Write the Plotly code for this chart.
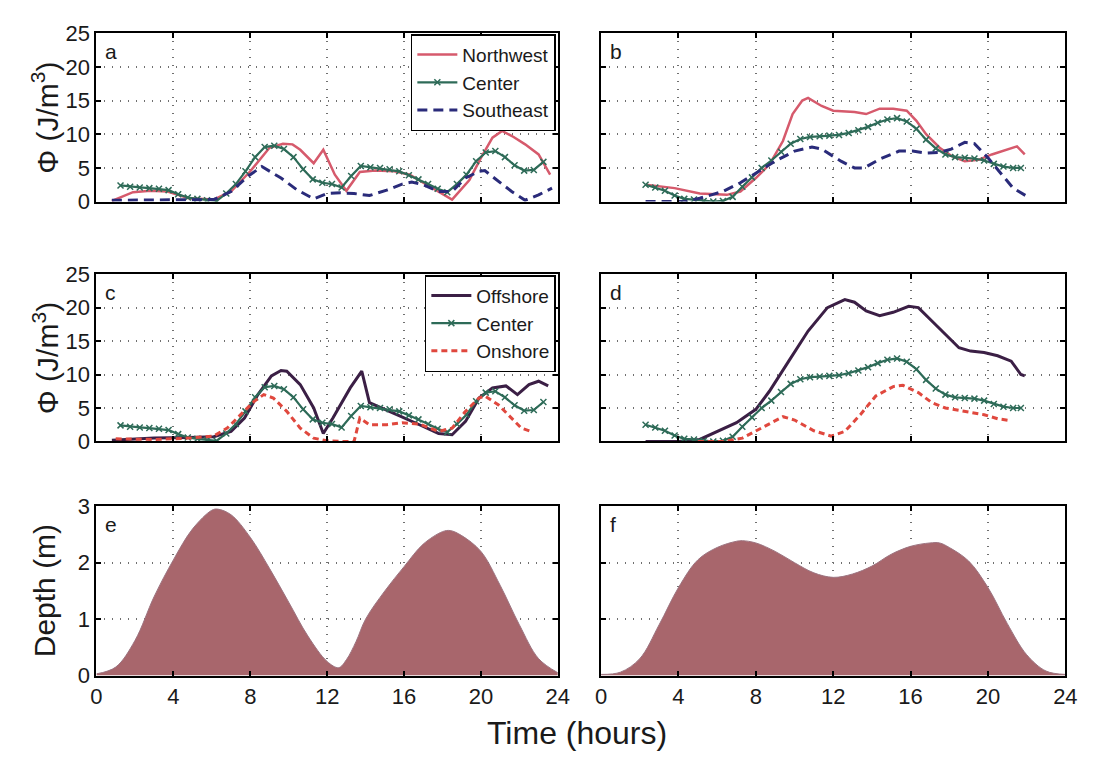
import plotly.graph_objects as go
from plotly.subplots import make_subplots

# ---- Panel a: energy at three sites (calm day) ----
nw_a_t = [0.8, 1.9, 2.8, 3.7, 4.8, 6.1, 7.0, 8.0, 9.0, 9.7, 10.2, 10.6, 11.3, 11.8, 12.4, 13.0,
          13.7, 14.5, 15.5, 16.3, 17.0, 17.8, 18.5, 19.4, 20.0, 20.6, 21.1, 21.7, 22.3, 23.0, 23.6]
nw_a_v = [0.1, 1.4, 1.6, 1.5, 0.5, 0.3, 1.5, 4.5, 8.0, 8.6, 8.5, 7.7, 5.7, 7.7, 4.0, 1.6,
          4.4, 4.6, 4.5, 4.0, 2.8, 1.4, 0.3, 3.2, 6.5, 9.5, 10.5, 9.6, 8.5, 7.0, 4.0]

center_ac_t = [1.25, 1.75, 2.25, 2.75, 3.25, 3.75, 4.25, 4.75, 5.25, 5.75, 6.25, 6.75, 7.25, 7.75,
               8.25, 8.75, 9.25, 9.75, 10.25, 10.75, 11.25, 11.75, 12.25, 12.75, 13.25, 13.75,
               14.25, 14.75, 15.25, 15.75, 16.25, 16.75, 17.25, 17.75, 18.25, 18.75, 19.25,
               19.75, 20.25, 20.75, 21.25, 21.75, 22.25, 22.75, 23.25]
center_ac_v = [2.4, 2.2, 2.1, 2.0, 1.9, 1.7, 1.1, 0.6, 0.4, 0.2, 0.1, 1.2, 2.6, 4.5,
               6.6, 8.1, 8.3, 7.8, 6.6, 4.8, 3.3, 2.8, 2.6, 2.1, 3.8, 5.3,
               5.1, 5.0, 4.8, 4.5, 3.9, 3.3, 2.6, 1.9, 1.4, 2.6, 4.0,
               6.0, 7.3, 7.5, 6.6, 5.4, 4.6, 4.7, 5.9]

se_a_t = [0.8, 3.0, 6.1, 7.0, 7.9, 8.6, 9.6, 10.4, 11.3, 12.0, 12.7, 13.4, 14.2, 15.1, 15.9,
          16.4, 17.0, 17.8, 18.5, 19.2, 19.9, 20.2, 20.9, 21.6, 22.3, 23.0, 23.7]
se_a_v = [0.2, 0.2, 0.3, 1.5, 3.8, 5.2, 3.5, 1.8, 0.4, 1.2, 1.3, 1.2, 0.9, 1.7, 2.6,
          2.9, 2.5, 1.5, 1.5, 3.5, 4.5, 4.6, 3.0, 1.5, 0.2, 1.0, 2.0]

# ---- Panel b: energy at three sites (storm day) ----
nw_b_t = [2.3, 3.8, 5.1, 6.5, 7.2, 8.0, 8.7, 9.4, 9.9, 10.4, 10.7, 11.4, 12.0, 13.1, 13.7,
          14.4, 15.1, 15.8, 16.3, 16.8, 17.5, 18.1, 18.8, 19.5, 20.2, 20.8, 21.5, 21.9]
nw_b_v = [2.5, 2.0, 1.2, 1.0, 1.5, 3.5, 5.5, 9.0, 13.0, 15.0, 15.4, 14.2, 13.5, 13.3, 13.0,
          13.8, 13.8, 13.5, 12.0, 10.0, 8.0, 6.8, 6.0, 6.2, 7.0, 7.5, 8.2, 7.0]

center_bd_t = [2.3, 2.8, 3.3, 3.8, 4.3, 4.8, 5.3, 5.8, 6.3, 6.8, 7.3, 7.8, 8.3, 8.8, 9.3, 9.8,
               10.3, 10.8, 11.3, 11.8, 12.3, 12.8, 13.3, 13.8, 14.3, 14.8, 15.3, 15.8, 16.3,
               16.8, 17.3, 17.8, 18.3, 18.8, 19.3, 19.8, 20.3, 20.8, 21.3, 21.7]
center_bd_v = [2.5, 2.1, 1.6, 0.9, 0.4, 0.3, 0.1, 0.0, 0.1, 0.7, 2.2, 3.6, 5.0, 6.1, 7.4, 8.6,
               9.3, 9.6, 9.7, 9.8, 9.9, 10.2, 10.6, 11.1, 11.7, 12.2, 12.4, 11.9, 10.8,
               9.2, 7.9, 7.0, 6.6, 6.5, 6.4, 6.1, 5.6, 5.2, 5.0, 5.0]

se_b_t = [2.3, 4.3, 5.1, 6.3, 7.2, 8.0, 9.0, 10.0, 10.9, 11.4, 12.4, 13.1, 13.6, 14.4, 15.4,
          16.1, 16.8, 17.5, 18.1, 18.8, 19.3, 20.0, 20.7, 21.3, 22.0]
se_b_v = [0.0, 0.0, 0.5, 1.5, 2.8, 4.2, 6.0, 7.5, 8.1, 7.8, 6.0, 5.0, 5.0, 6.3, 7.5,
          7.5, 7.2, 7.3, 7.8, 8.8, 8.6, 6.5, 4.0, 2.0, 0.8]

# ---- Panel c: cross-shore sites (calm day) ----
off_c_t = [0.8, 3.0, 4.8, 6.1, 7.0, 7.7, 8.4, 9.1, 9.6, 9.9, 10.6, 11.3, 11.8, 12.3, 13.2,
           13.8, 14.2, 14.7, 15.8, 16.8, 17.8, 18.5, 19.2, 19.9, 20.6, 21.3, 21.9, 22.5,
           23.0, 23.5]
off_c_v = [0.2, 0.5, 0.6, 0.7, 1.5, 3.5, 7.0, 9.8, 10.6, 10.5, 8.5, 5.0, 1.2, 3.5, 8.0,
           10.5, 5.8, 5.2, 3.8, 2.5, 1.2, 1.0, 3.0, 6.5, 8.0, 8.3, 7.0, 8.5, 9.0, 8.3]

on_c_t = [1.0, 3.0, 4.8, 6.1, 6.8, 7.5, 8.2, 8.7, 9.2, 9.9, 10.6, 11.3, 12.0, 12.7, 13.4,
          13.7, 14.2, 15.1, 15.9, 16.8, 17.8, 18.5, 19.2, 19.9, 20.2, 20.9, 21.6, 22.1, 22.6]
on_c_v = [0.4, 0.3, 0.5, 0.8, 2.0, 4.0, 6.0, 7.0, 6.5, 4.5, 2.0, 0.5, 0.1, 0.0, 0.0,
          3.5, 2.5, 2.5, 2.8, 2.6, 1.5, 2.0, 4.5, 6.5, 6.8, 5.5, 3.5, 2.0, 1.5]

# ---- Panel d: cross-shore sites (storm day) ----
off_d_t = [2.3, 4.0, 5.1, 6.0, 7.0, 8.0, 8.7, 9.7, 10.7, 11.7, 12.6, 13.1, 13.7, 14.4, 15.1,
           15.9, 16.4, 17.1, 17.8, 18.5, 19.1, 19.8, 20.5, 21.2, 21.7, 21.9]
off_d_v = [0.0, 0.0, 0.3, 1.5, 2.8, 4.8, 7.5, 12.0, 16.5, 20.0, 21.2, 20.8, 19.5, 18.8, 19.3,
           20.2, 20.0, 18.0, 16.0, 14.0, 13.5, 13.3, 12.8, 12.0, 10.0, 9.8]

on_d_t = [5.0, 6.3, 7.3, 8.3, 9.4, 10.0, 11.0, 11.9, 12.6, 13.4, 14.2, 15.1, 15.6, 16.4, 17.1,
          17.8, 18.8, 19.8, 20.5, 21.2]
on_d_v = [0.0, 0.0, 0.5, 2.0, 3.7, 3.2, 1.6, 0.8, 1.5, 4.0, 6.8, 8.2, 8.4, 7.3, 5.8,
          5.0, 4.5, 4.0, 3.4, 3.1]

# ---- Panels e, f: water depth ----
depth_e_t = [0, 1, 2, 3, 4, 5, 6, 6.3, 7, 8, 9, 10, 11, 12, 12.6, 13, 13.5, 14, 15, 16, 17,
             18, 18.4, 19, 20, 21, 22, 23, 24]
depth_e_v = [0.03, 0.15, 0.62, 1.4, 2.05, 2.6, 2.93, 2.95, 2.85, 2.45, 1.9, 1.3, 0.7, 0.25,
             0.14, 0.28, 0.6, 1.0, 1.5, 1.93, 2.33, 2.55, 2.57, 2.48, 2.2, 1.6, 0.9, 0.3, 0.05]

depth_f_t = [0, 1, 2, 3, 4, 5, 6, 7, 7.3, 8, 9, 10, 11, 12, 13, 14, 15, 16, 17, 17.5, 18, 19,
             20, 21, 22, 23, 24]
depth_f_v = [0.02, 0.06, 0.3, 0.9, 1.56, 2.05, 2.27, 2.38, 2.39, 2.35, 2.2, 2.0, 1.82, 1.74,
             1.8, 1.94, 2.15, 2.29, 2.35, 2.35, 2.27, 2.03, 1.56, 0.92, 0.37, 0.08, 0.02]

x_ticks = [0, 4, 8, 12, 16, 20, 24]
phi_ticks = [0, 5, 10, 15, 20, 25]
depth_ticks = [0, 1, 2, 3]
panel_letters = ["a", "b", "c", "d", "e", "f"]

C_NW = "#d65a6c"
C_CENTER = "#2e6b58"
C_SE = "#2a2b7a"
C_OFF = "#3b1f45"
C_ON = "#e0483e"
C_FILL = "#a8666c"
FONT = "Liberation Sans, Arial, sans-serif"
TXT = "#1a1a1a"

fig = make_subplots(rows=3, cols=2)

def center_trace(t, v, show, legend):
    return go.Scatter(x=t, y=v, mode="lines+markers", name="Center",
                      line=dict(color=C_CENTER, width=2.2),
                      marker=dict(symbol="x-thin", size=6, color=C_CENTER,
                                  line=dict(color=C_CENTER, width=1.5)),
                      showlegend=show, legend=legend)

# panel a
fig.add_trace(go.Scatter(x=nw_a_t, y=nw_a_v, mode="lines", name="Northwest",
                         line=dict(color=C_NW, width=2.5), legend="legend"), 1, 1)
fig.add_trace(center_trace(center_ac_t, center_ac_v, True, "legend"), 1, 1)
fig.add_trace(go.Scatter(x=se_a_t, y=se_a_v, mode="lines", name="Southeast",
                         line=dict(color=C_SE, width=3, dash="10px,6px"), legend="legend"), 1, 1)
# panel b
fig.add_trace(go.Scatter(x=nw_b_t, y=nw_b_v, mode="lines", showlegend=False,
                         line=dict(color=C_NW, width=2.5)), 1, 2)
fig.add_trace(center_trace(center_bd_t, center_bd_v, False, "legend"), 1, 2)
fig.add_trace(go.Scatter(x=se_b_t, y=se_b_v, mode="lines", showlegend=False,
                         line=dict(color=C_SE, width=3, dash="10px,6px")), 1, 2)
# panel c
fig.add_trace(go.Scatter(x=off_c_t, y=off_c_v, mode="lines", name="Offshore",
                         line=dict(color=C_OFF, width=3), legend="legend2"), 2, 1)
fig.add_trace(center_trace(center_ac_t, center_ac_v, True, "legend2"), 2, 1)
fig.add_trace(go.Scatter(x=on_c_t, y=on_c_v, mode="lines", name="Onshore",
                         line=dict(color=C_ON, width=3, dash="6px,4px"), legend="legend2"), 2, 1)
# panel d
fig.add_trace(go.Scatter(x=off_d_t, y=off_d_v, mode="lines", showlegend=False,
                         line=dict(color=C_OFF, width=3)), 2, 2)
fig.add_trace(center_trace(center_bd_t, center_bd_v, False, "legend2"), 2, 2)
fig.add_trace(go.Scatter(x=on_d_t, y=on_d_v, mode="lines", showlegend=False,
                         line=dict(color=C_ON, width=3, dash="6px,4px")), 2, 2)
# panels e, f
for col, (t, v) in enumerate([(depth_e_t, depth_e_v), (depth_f_t, depth_f_v)], start=1):
    fig.add_trace(go.Scatter(x=t, y=v, mode="lines", fill="tozeroy", fillcolor=C_FILL,
                             line=dict(color="#9c7480", width=1, shape="spline"),
                             showlegend=False), 3, col)

W, H = 1099, 764
x_dom = [(92, 561), (605, 1077)]
y_dom = [(22, 196), (271, 444), (511, 686)]

axis_common = dict(showline=True, linecolor="black", linewidth=2, mirror="ticks",
                   ticks="inside", ticklen=5, tickcolor="black", tickwidth=1.5,
                   showgrid=True, gridcolor="#707070", griddash="1px,7px", gridwidth=1.5,
                   zeroline=False,
                   tickfont=dict(family=FONT, size=22, color=TXT))

for r in range(3):
    for c in range(2):
        idx = r * 2 + c + 1
        sfx = "" if idx == 1 else str(idx)
        x0, x1 = x_dom[c]
        y0, y1 = y_dom[r]
        xa = dict(axis_common, domain=[x0 / W, x1 / W], range=[0, 24],
                  tickvals=x_ticks, showticklabels=(r == 2))
        if r < 2:
            ya = dict(axis_common, domain=[1 - y1 / H, 1 - y0 / H], range=[0, 25],
                      tickvals=phi_ticks, showticklabels=(c == 0))
        else:
            ya = dict(axis_common, domain=[1 - y1 / H, 1 - y0 / H], range=[0, 3],
                      tickvals=depth_ticks, showticklabels=(c == 0))
        fig.layout["xaxis" + sfx].update(xa)
        fig.layout["yaxis" + sfx].update(ya)

annotations = []
for i, letter in enumerate(panel_letters):
    r, c = divmod(i, 2)
    annotations.append(dict(text=letter, xref="paper", yref="paper",
                            x=(x_dom[c][0] + 7) / W, y=1 - (y_dom[r][0] + 5) / H,
                            xanchor="left", yanchor="top", showarrow=False,
                            font=dict(family=FONT, size=21, color=TXT)))
for r, label in [(0, "Φ (J/m<sup>3</sup>)"), (1, "Φ (J/m<sup>3</sup>)"), (2, "Depth (m)")]:
    annotations.append(dict(text=label, xref="paper", yref="paper", textangle=-90,
                            x=40 / W, y=1 - (y_dom[r][0] + y_dom[r][1]) / 2 / H,
                            xanchor="center", yanchor="middle", showarrow=False,
                            font=dict(family=FONT, size=30, color=TXT)))
annotations.append(dict(text="Time (hours)", xref="paper", yref="paper",
                        x=580 / W, y=1 - 745 / H, xanchor="center", yanchor="middle",
                        showarrow=False, font=dict(family=FONT, size=32, color=TXT)))

legend_style = dict(bgcolor="white", bordercolor="black", borderwidth=1.5,
                    font=dict(family=FONT, size=19, color=TXT),
                    xanchor="right", yanchor="top", tracegroupgap=0,
                    itemwidth=40)

fig.update_layout(
    width=W, height=H, margin=dict(l=0, r=0, t=0, b=0),
    paper_bgcolor="white", plot_bgcolor="white",
    annotations=annotations,
    legend=dict(legend_style, x=559 / W, y=1 - 23 / H),
    legend2=dict(legend_style, x=559 / W, y=1 - 272 / H),
)

fig.write_html("out.html")
